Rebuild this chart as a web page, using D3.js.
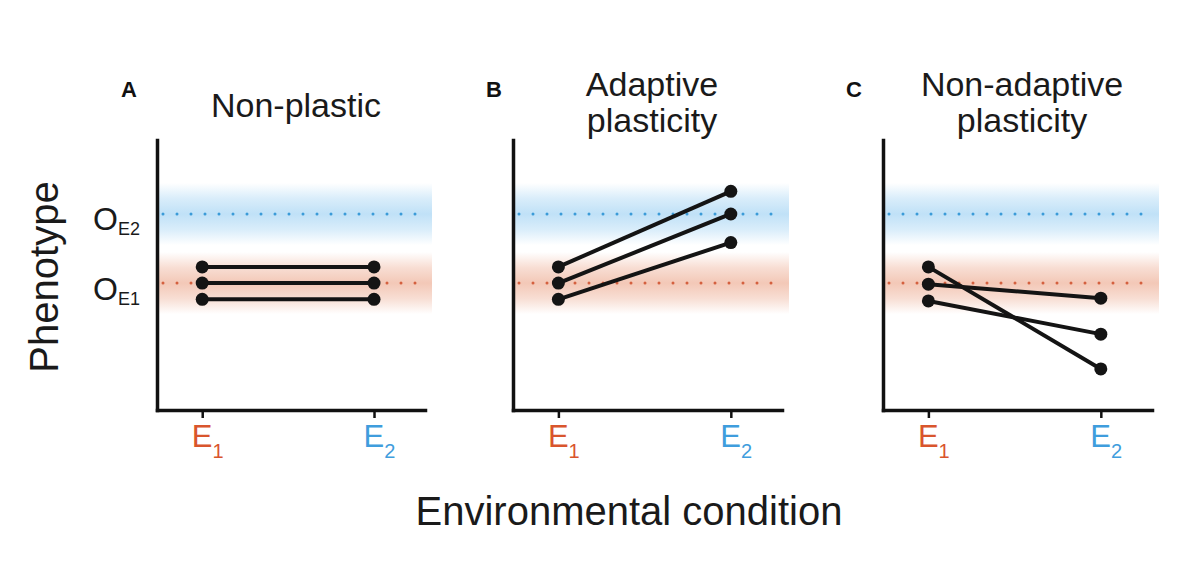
<!DOCTYPE html>
<html>
<head>
<meta charset="utf-8">
<script src="https://cdn.jsdelivr.net/npm/d3@7"></script>
<style>
  body { margin: 0; background: #fff; }
  svg { display: block; font-family: 'Liberation Sans', Arial, sans-serif; }
</style>
</head>
<body>
<svg id="chart"></svg>
<script>
const width = 1178;
const height = 568;

// data, in arbitrary phenotype units (0 = bottom of axis, 100 = top)
const conditions = ['E1', 'E2'];
const panelLetters = ['A', 'B', 'C'];
const panelTitles = [['Non-plastic'], ['Adaptive', 'plasticity'], ['Non-adaptive', 'plasticity']];
const optimumE1 = 47;
const optimumE2 = 72.6;
const bandHalf = 11.5;
const nonPlastic = [[53, 53], [47, 47], [41, 41]];
const adaptive = [[53, 81], [47, 72.6], [41, 62]];
const nonAdaptive = [[53, 15.2], [46.6, 41.4], [40.4, 28.1]];
const panelData = [nonPlastic, adaptive, nonAdaptive];

// layout
const panels = [
  { x0: 157, x1: 425, letterX: 121 },
  { x0: 513, x1: 782, letterX: 486 },
  { x0: 883, x1: 1152, letterX: 846 }
];
const yTop = 140, yBottom = 410;
const colE1 = '#d9552d', colE2 = '#3f9ddd';
const dotE1 = '#d4603f', dotE2 = '#3b9bd8';

const svg = d3.select('#chart').attr('width', width).attr('height', height);

const y = d3.scaleLinear().domain([0, 100]).range([yBottom, yTop]);

const defs = svg.append('defs');
const gradient = (id, color) => {
  const g = defs.append('linearGradient')
    .attr('id', id).attr('x1', 0).attr('y1', 0).attr('x2', 0).attr('y2', 1);
  [[0, 0], [0.25, 0.6], [0.5, 1], [0.75, 0.6], [1, 0]].forEach(([o, a]) => {
    g.append('stop').attr('offset', o).attr('stop-color', color).attr('stop-opacity', a);
  });
};
gradient('bandBlue', '#c0e1f7');
gradient('bandRed', '#f3c8b7');

panels.forEach((p, i) => {
  const x = d3.scalePoint().domain(conditions).range([p.x0, p.x1]).padding(0.28).align(0.47);
  const g = svg.append('g');

  // optimum bands
  [[optimumE2, 'bandBlue'], [optimumE1, 'bandRed']].forEach(([v, id]) => {
    g.append('rect')
      .attr('x', p.x0)
      .attr('y', y(v + bandHalf))
      .attr('width', p.x1 - p.x0 + 7)
      .attr('height', y(v - bandHalf) - y(v + bandHalf))
      .attr('fill', `url(#${id})`);
  });

  // optimum dotted lines
  [[optimumE2, dotE2], [optimumE1, dotE1]].forEach(([v, c]) => {
    g.append('line')
      .attr('x1', p.x0 + 6).attr('x2', p.x1 - 6)
      .attr('y1', y(v)).attr('y2', y(v))
      .attr('stroke', c)
      .attr('stroke-width', 3)
      .attr('stroke-linecap', 'round')
      .attr('stroke-dasharray', '0 14');
  });

  // axes
  const xAxis = g.append('g')
    .attr('transform', `translate(0,${yBottom})`)
    .call(d3.axisBottom(x).tickSize(8).tickSizeOuter(0).tickFormat(''));
  xAxis.select('.domain').attr('stroke', '#111').attr('stroke-width', 3.5).attr('stroke-linecap', 'square');
  xAxis.selectAll('.tick line').attr('stroke', '#111').attr('stroke-width', 2.5);

  const yAxis = g.append('g')
    .attr('transform', `translate(${p.x0},0)`)
    .call(d3.axisLeft(y).tickValues([]).tickSizeOuter(0));
  yAxis.select('.domain').attr('stroke', '#111').attr('stroke-width', 3.5).attr('stroke-linecap', 'square');

  // tick labels E1, E2
  conditions.forEach((c, j) => {
    const t = g.append('text')
      .attr('x', x(c) - 10.5)
      .attr('y', 447)
      .attr('fill', j === 0 ? colE1 : colE2)
      .attr('font-size', 31);
    t.append('tspan').text('E');
    t.append('tspan').attr('font-size', 20).attr('dy', 11).text(c.slice(1));
  });

  // data lines and points
  const data = panelData[i];
  g.selectAll('.geno')
    .data(data)
    .join('line')
    .attr('class', 'geno')
    .attr('x1', x('E1')).attr('x2', x('E2'))
    .attr('y1', d => y(d[0])).attr('y2', d => y(d[1]))
    .attr('stroke', '#141414')
    .attr('stroke-width', 4);
  g.selectAll('.pt')
    .data(data.flatMap(d => d.map((v, k) => ({ c: conditions[k], v }))))
    .join('circle')
    .attr('class', 'pt')
    .attr('cx', d => x(d.c))
    .attr('cy', d => y(d.v))
    .attr('r', 6.5)
    .attr('fill', '#141414');

  // panel letter and title
  g.append('text')
    .attr('x', p.letterX).attr('y', 97)
    .attr('font-size', 22).attr('font-weight', 'bold')
    .attr('fill', '#111')
    .text(panelLetters[i]);

  const lines = panelTitles[i];
  lines.forEach((line, k) => {
    g.append('text')
      .attr('x', p.x0 + 139)
      .attr('y', lines.length === 1 ? 117 : 96 + k * 36)
      .attr('text-anchor', 'middle')
      .attr('font-size', 34)
      .attr('fill', '#1a1a1a')
      .text(line);
  });
});

// optimum labels on the left axis
[[optimumE2, '2'], [optimumE1, '1']].forEach(([v, n]) => {
  const t = svg.append('text')
    .attr('x', 93)
    .attr('y', y(v) + 16.5)
    .attr('font-size', 32)
    .attr('fill', '#1a1a1a');
  t.append('tspan').text('O');
  t.append('tspan').attr('font-size', 18).attr('dy', 5).text('E' + n);
});

// axis titles
svg.append('text')
  .attr('transform', 'translate(58,277) rotate(-90)')
  .attr('text-anchor', 'middle')
  .attr('font-size', 40)
  .attr('fill', '#1a1a1a')
  .text('Phenotype');

svg.append('text')
  .attr('x', 629).attr('y', 525)
  .attr('text-anchor', 'middle')
  .attr('font-size', 40)
  .attr('fill', '#1a1a1a')
  .text('Environmental condition');
</script>
</body>
</html>
